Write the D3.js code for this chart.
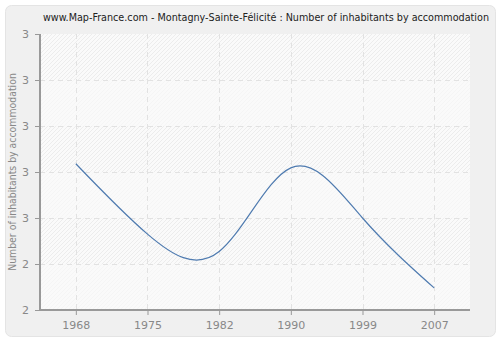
<!DOCTYPE html>
<html>
<head>
<meta charset="utf-8">
<script src="https://cdn.jsdelivr.net/npm/d3@7"></script>
<style>
  body { margin: 0; background: #fff; }
  svg { display: block; font-family: "DejaVu Sans", Verdana, sans-serif; }
</style>
</head>
<body>
<svg id="chart"></svg>
<script>
var width = 500;
var height = 340;

var years = ['1968', '1975', '1982', '1990', '1999', '2007'];
var values = [2.618, 2.465, 2.427, 2.609, 2.5, 2.348];
var yTicks = [2.3, 2.4, 2.5, 2.6, 2.7, 2.8, 2.9];
var yTickLabels = ['2', '2', '3', '3', '3', '3', '3'];

var margin = {top: 34, right: 30, bottom: 30, left: 40};
var plotW = width - margin.left - margin.right;
var plotH = height - margin.top - margin.bottom;

var svg = d3.select('#chart')
    .attr('width', width)
    .attr('height', height);

var defs = svg.append('defs');
var pat = defs.append('pattern')
    .attr('id', 'hatch')
    .attr('patternUnits', 'userSpaceOnUse')
    .attr('width', 4).attr('height', 4);
pat.append('rect').attr('width', 4).attr('height', 4).attr('fill', '#fafafa');
pat.append('path')
    .attr('d', 'M-1,1 l2,-2 M0,4 l4,-4 M3,5 l2,-2')
    .attr('stroke', '#ececec')
    .attr('stroke-width', 1);

// outer panel
svg.append('rect')
    .attr('x', 5.5).attr('y', 5.5)
    .attr('width', 490).attr('height', 331)
    .attr('rx', 6)
    .attr('fill', '#f0f0f0')
    .attr('stroke', '#e4e4e4');

svg.append('text')
    .attr('x', 266).attr('y', 21)
    .attr('text-anchor', 'middle')
    .attr('font-size', 10.7)
    .style('font-family', '"DejaVu Sans Condensed", "DejaVu Sans", sans-serif')
    .attr('fill', '#222')
    .text('www.Map-France.com - Montagny-Sainte-Félicité : Number of inhabitants by accommodation');

var x = d3.scalePoint()
    .domain(years)
    .range([0, plotW])
    .padding(0.5);

var y = d3.scaleLinear()
    .domain([2.3, 2.9])
    .range([plotH, 0]);

var g = svg.append('g')
    .attr('transform', 'translate(' + margin.left + ',' + margin.top + ')');

g.append('rect')
    .attr('width', plotW).attr('height', plotH)
    .attr('fill', 'url(#hatch)');

// alternate lighter bands
g.selectAll('.band')
    .data(d3.pairs(yTicks).filter((d, i) => i % 2 === 0))
    .enter()
    .append('rect')
      .attr('x', 0)
      .attr('width', plotW)
      .attr('y', d => y(d[1]))
      .attr('height', d => y(d[0]) - y(d[1]))
      .attr('fill', '#fafafa')
      .attr('opacity', 0.7);

// grid
g.selectAll('.hgrid')
    .data(yTicks.slice(1, -1))
    .enter()
    .append('line')
      .attr('x1', 0).attr('x2', plotW)
      .attr('y1', d => y(d) + 0.5).attr('y2', d => y(d) + 0.5)
      .attr('stroke', '#e2e2e2')
      .attr('stroke-dasharray', '5,4');

g.selectAll('.vgrid')
    .data(years)
    .enter()
    .append('line')
      .attr('x1', d => Math.round(x(d)) + 0.5).attr('x2', d => Math.round(x(d)) + 0.5)
      .attr('y1', 0).attr('y2', plotH)
      .attr('stroke', '#e2e2e2')
      .attr('stroke-dasharray', '5,4');

var yAxis = d3.axisLeft(y)
    .tickValues(yTicks)
    .tickFormat((d, i) => yTickLabels[i])
    .tickSize(5)
    .tickPadding(6);

var xAxis = d3.axisBottom(x)
    .tickSize(5)
    .tickPadding(6);

var ya = g.append('g').call(yAxis);
var xa = g.append('g').attr('transform', 'translate(0,' + plotH + ')').call(xAxis);

[ya, xa].forEach(a => {
  a.select('.domain').attr('stroke', '#999').attr('stroke-width', 2);
  a.selectAll('.tick line').attr('stroke', '#999');
  a.selectAll('.tick text').attr('fill', '#888').attr('font-size', 11)
    .style('font-family', '"DejaVu Sans", Verdana, sans-serif');
});
xa.select('.domain').attr('d', 'M0,0H' + plotW);
ya.select('.domain').attr('d', 'M0,0V' + plotH);

svg.append('text')
    .attr('transform', 'translate(16,' + (margin.top + plotH / 2) + ') rotate(-90)')
    .attr('text-anchor', 'middle')
    .attr('font-size', 10.4)
    .style('font-family', '"DejaVu Sans Condensed", "DejaVu Sans", sans-serif')
    .attr('fill', '#888')
    .text('Number of inhabitants by accommodation');

var line = d3.line()
    .x((d, i) => x(years[i]))
    .y(d => y(d))
    .curve(d3.curveNatural);

g.append('path')
    .datum(values)
    .attr('d', line)
    .attr('fill', 'none')
    .attr('stroke', '#4f7bb0')
    .attr('stroke-width', 1.2);
</script>
</body>
</html>
